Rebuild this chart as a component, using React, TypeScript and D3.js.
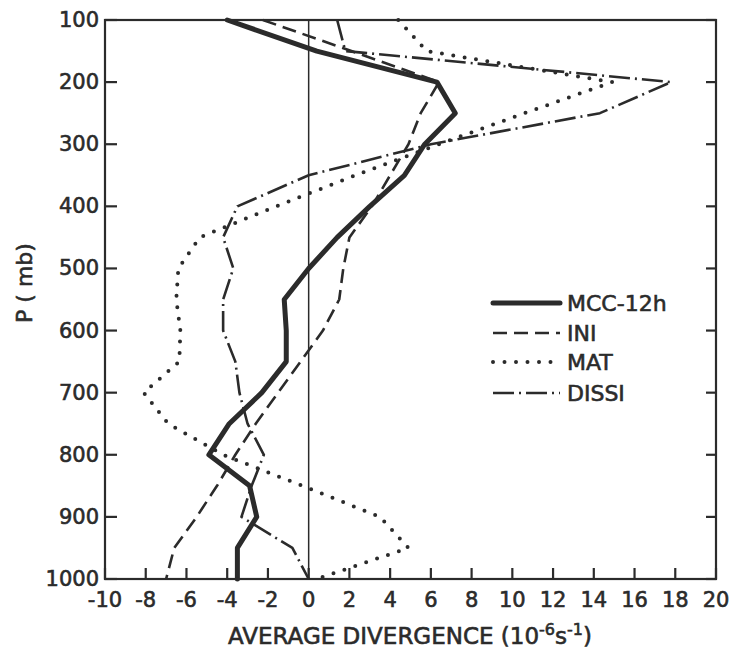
import React from "react";
import * as d3 from "d3";

const pressure = [100, 150, 200, 250, 300, 350, 400, 450, 500, 550, 600, 650, 700, 750, 800, 850, 900, 950, 1000];
const mcc = [-4.0, 0.4, 6.3, 7.2, 5.7, 4.7, 3.0, 1.4, 0.0, -1.2, -1.1, -1.1, -2.3, -3.9, -4.9, -2.9, -2.55, -3.5, -3.5];
const ini = [-2.25, 2.1, 6.4, 5.5, 4.9, 4.0, 3.1, 2.0, 1.7, 1.5, 0.7, -0.4, -1.5, -2.6, -3.6, -4.5, -5.5, -6.6, -7.0];
const mat = [4.4, 5.8, 14.9, 10.6, 6.4, 2.3, -1.6, -5.35, -6.4, -6.5, -6.3, -6.35, -8.1, -6.9, -4.2, -0.3, 3.5, 4.9, 0.4];
const dissi = [1.4, 1.8, 17.8, 14.3, 6.0, 0.0, -3.5, -4.2, -3.7, -4.2, -4.2, -3.6, -3.4, -3.0, -2.2, -2.8, -3.3, -0.8, 0.0];

const xTicks = [-10, -8, -6, -4, -2, 0, 2, 4, 6, 8, 10, 12, 14, 16, 18, 20];
const yTicks = [100, 200, 300, 400, 500, 600, 700, 800, 900, 1000];
const seriesNames = ["MCC-12h", "INI", "MAT", "DISSI"];

const INK = "#2b2b2b";
const FONT = "'DejaVu Sans', sans-serif";

type Style = { width: number; dash: string | null; cap: "round" | "butt" };
const styles: Style[] = [
  { width: 5, dash: null, cap: "round" },
  { width: 2.6, dash: "14 7", cap: "butt" },
  { width: 4, dash: "0 11.5", cap: "round" },
  { width: 2.6, dash: "21 5 2 5", cap: "butt" },
];

const textStyle = { stroke: INK, strokeWidth: 0.6 };

export default function App() {
  const x = d3.scaleLinear().domain([-10, 20]).range([105, 716]);
  const y = d3.scaleLinear().domain([100, 1000]).range([20, 579]);
  const allSeries = [mcc, ini, mat, dissi];
  const line = d3
    .line<[number, number]>()
    .x((d) => x(d[0]))
    .y((d) => y(d[1]));

  const legendY = [303, 333, 362, 393];

  return (
    <svg
      width={730}
      height={649}
      style={{ position: "absolute", left: 0, top: 0, background: "#fff" }}
      fontFamily={FONT}
    >
      <rect x={0} y={0} width={730} height={649} fill="#fff" />
      <line x1={x(0)} x2={x(0)} y1={y(100)} y2={y(1000)} stroke={INK} strokeWidth={1.5} />
      {allSeries.map((vals, i) => {
        const pts = vals.map((v, j) => [v, pressure[j]] as [number, number]);
        const st = styles[i];
        return (
          <path
            key={i}
            d={line(pts) || ""}
            fill="none"
            stroke={INK}
            strokeWidth={st.width}
            strokeDasharray={st.dash || undefined}
            strokeLinecap={st.cap}
            strokeLinejoin="round"
          />
        );
      })}
      <rect
        x={x(-10)}
        y={y(100)}
        width={x(20) - x(-10)}
        height={y(1000) - y(100)}
        fill="none"
        stroke={INK}
        strokeWidth={2.2}
      />
      {yTicks.map((t) => (
        <g key={t}>
          <line x1={x(-10)} x2={x(-10) + 12} y1={y(t)} y2={y(t)} stroke={INK} strokeWidth={2.2} />
          <line x1={x(20)} x2={x(20) - 10} y1={y(t)} y2={y(t)} stroke={INK} strokeWidth={2.2} />
          <text
            x={99}
            y={y(t)}
            textAnchor="end"
            dominantBaseline="central"
            fontSize={21}
            fill={INK}
            style={textStyle}
          >
            {t}
          </text>
        </g>
      ))}
      {xTicks.map((t) => (
        <g key={t}>
          <line x1={x(t)} x2={x(t)} y1={y(1000)} y2={y(1000) - 11} stroke={INK} strokeWidth={2.2} />
          <text x={x(t)} y={607} textAnchor="middle" fontSize={21} fill={INK} style={textStyle}>
            {t}
          </text>
        </g>
      ))}
      <text x={410} y={644} textAnchor="middle" fontSize={23} fill={INK} style={textStyle}>
        AVERAGE DIVERGENCE (10
        <tspan dy={-9} fontSize={16}>-6</tspan>
        <tspan dy={9}>s</tspan>
        <tspan dy={-9} fontSize={16}>-1</tspan>
        <tspan dy={9}>)</tspan>
      </text>
      <text
        transform="translate(32,283) rotate(-90)"
        textAnchor="middle"
        fontSize={22}
        fill={INK}
        style={textStyle}
      >
        P ( mb)
      </text>
      {seriesNames.map((name, i) => {
        const st = styles[i];
        return (
          <g key={name}>
            <line
              x1={493}
              x2={560}
              y1={legendY[i]}
              y2={legendY[i]}
              stroke={INK}
              strokeWidth={st.width}
              strokeDasharray={st.dash || undefined}
              strokeLinecap={st.cap}
            />
            <text
              x={567}
              y={legendY[i]}
              dominantBaseline="central"
              fontSize={22}
              fill={INK}
              style={textStyle}
            >
              {name}
            </text>
          </g>
        );
      })}
    </svg>
  );
}
